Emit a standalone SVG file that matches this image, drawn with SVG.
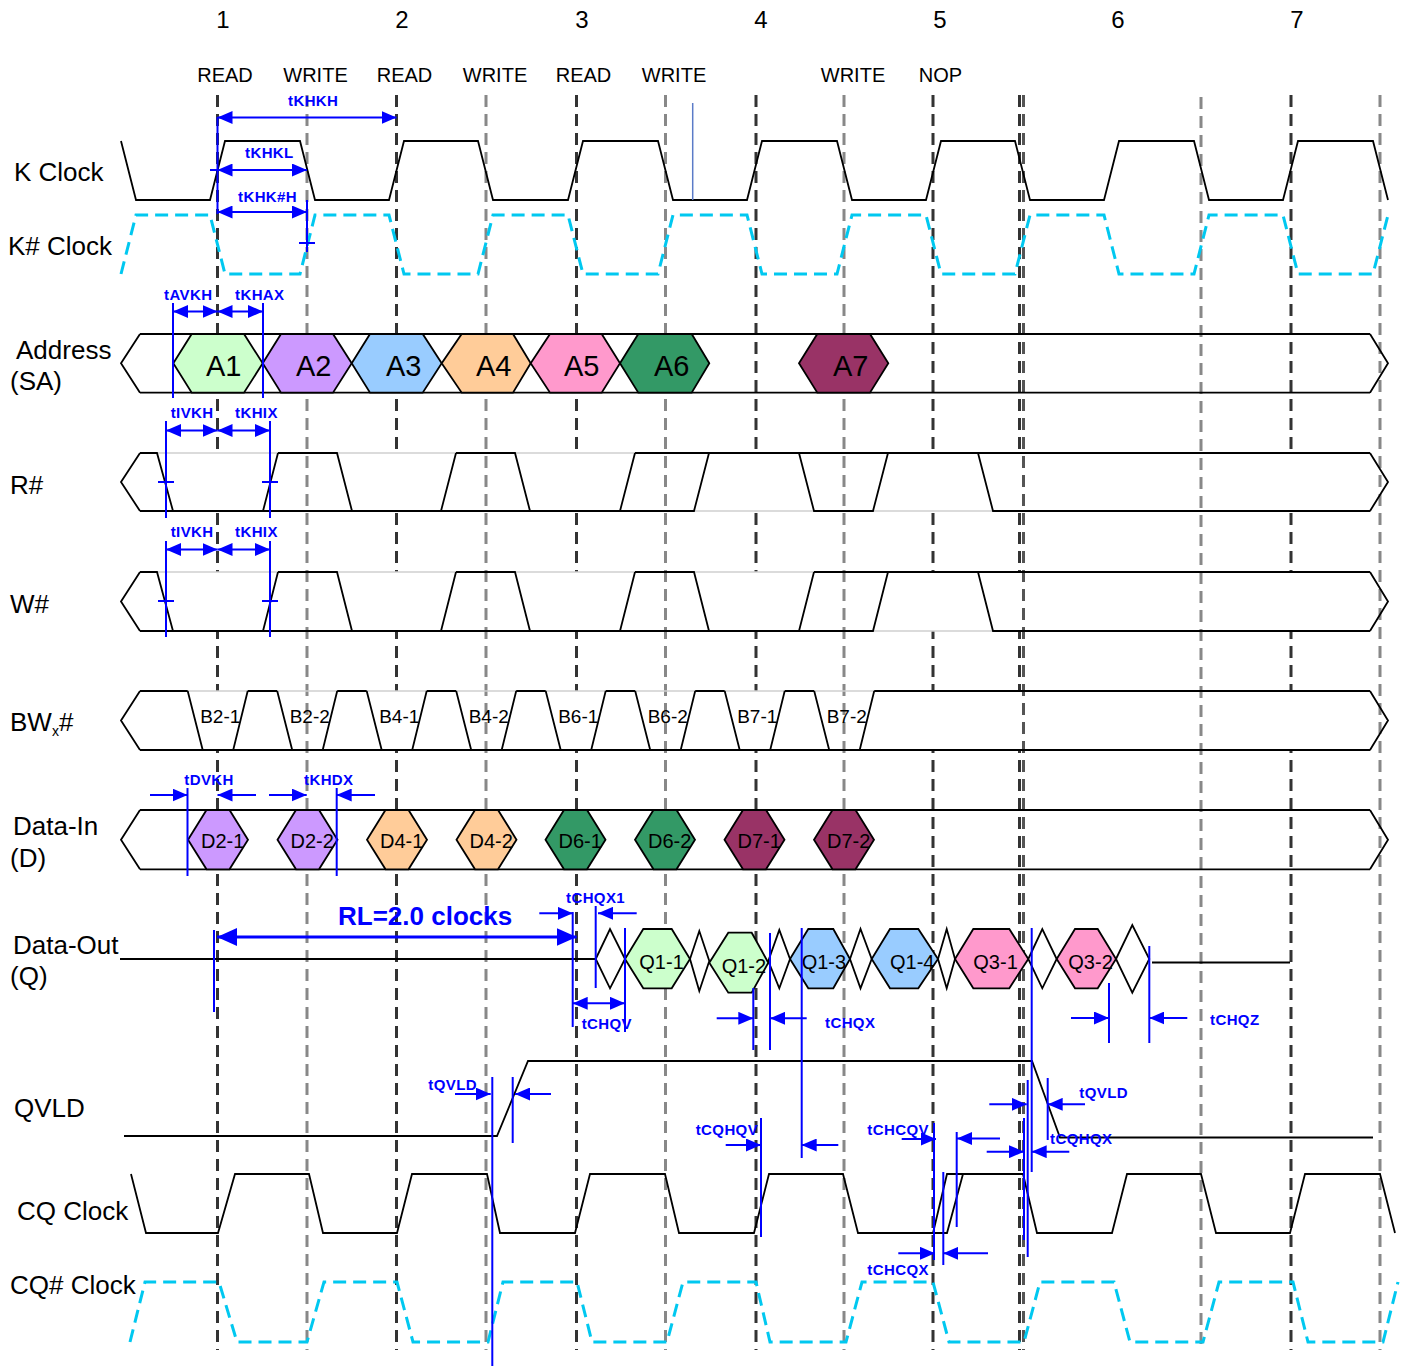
<svg xmlns="http://www.w3.org/2000/svg" width="1408" height="1366" viewBox="0 0 1408 1366">
<style>
text{font-family:"Liberation Sans",Arial,sans-serif;fill:#000}
.lbl{font-size:26px}
.num{font-size:24px;text-anchor:middle}
.cmd{font-size:20px;text-anchor:middle}
.t{font-weight:bold;font-size:15px;fill:#0000ff;letter-spacing:0.4px}
.rl{font-weight:bold;font-size:26px;fill:#0000ff}
.hx{font-size:29px}
.sm{font-size:19px}
.sm2{font-size:20px}
.dk{stroke:#333;stroke-width:3;stroke-dasharray:12 7;fill:none}
.gy{stroke:#888;stroke-width:3;stroke-dasharray:12 7;fill:none}
.sig{stroke:#000;stroke-width:1.8;fill:none;stroke-linejoin:miter}
.lt{stroke:#cfcfcf;stroke-width:1.5;fill:none}
.cy{stroke:#00c8f0;stroke-width:3;stroke-dasharray:13 7;fill:none}
.bl{stroke:#0000ff;stroke-width:2;fill:none}
.ar{stroke:#0000ff;stroke-width:2;fill:none;marker-end:url(#ah)}
.da{stroke:#0000ff;stroke-width:2;fill:none;marker-end:url(#ah);marker-start:url(#ah)}
.hex{stroke:#000;stroke-width:1.8}
</style>
<defs>
<marker id="ah" markerUnits="userSpaceOnUse" markerWidth="15" markerHeight="13" refX="15" refY="6.5" orient="auto-start-reverse"><path d="M0,0 L15,6.5 L0,13 z" fill="#0000ff"/></marker>
<marker id="ahb" markerUnits="userSpaceOnUse" markerWidth="20" markerHeight="18" refX="20" refY="9" orient="auto-start-reverse"><path d="M0,0 L20,9 L0,18 z" fill="#0000ff"/></marker>
</defs>
<rect width="1408" height="1366" fill="#fff"/>

<g id="grid-dark">
<path class="dk" d="M217.5,95 V1350 M396.5,95 V1350 M576.5,95 V1350 M756,95 V1350 M933,95 V1350 M1019.5,95 V1350 M1291,95 V1350"/>
</g>

<g id="bus-fills">
<polygon points="121,482 140,453 1370,453 1388,482 1370,511 140,511" fill="#fff"/>
<polygon points="121,601.5 140,572 1370,572 1388,601.5 1370,631 140,631" fill="#fff"/>
<polygon points="121,720.5 140,691 1370,691 1388,720.5 1370,750 140,750" fill="#fff"/>
</g>

<g id="grid-gray">
<path class="gy" d="M307,95 V1350 M486,95 V1350 M665.5,95 V1350 M844,95 V1350 M1201,97 V1350 M1380,95 V1350"/>
<path d="M1023.5,95 V1350" stroke="#555" stroke-width="3" stroke-dasharray="12 7" fill="none"/>
</g>

<g id="header">
<text class="num" x="223" y="28">1</text>
<text class="num" x="402" y="28">2</text>
<text class="num" x="582" y="28">3</text>
<text class="num" x="761" y="28">4</text>
<text class="num" x="940" y="28">5</text>
<text class="num" x="1118" y="28">6</text>
<text class="num" x="1297" y="28">7</text>
<text class="cmd" x="225" y="82">READ</text>
<text class="cmd" x="315.5" y="82">WRITE</text>
<text class="cmd" x="404.5" y="82">READ</text>
<text class="cmd" x="495" y="82">WRITE</text>
<text class="cmd" x="583.5" y="82">READ</text>
<text class="cmd" x="674" y="82">WRITE</text>
<text class="cmd" x="853" y="82">WRITE</text>
<text class="cmd" x="940.5" y="82">NOP</text>
</g>

<g id="k-clock">
<text class="lbl" x="14" y="181">K Clock</text>
<path class="sig" d="M121,141 L136,200 L210,200 L225,141 L300,141 L315,200 L389,200 L404,141 L478,141 L493,200 L568,200 L583,141 L658,141 L673,200 L747,200 L762,141 L837,141 L852,200 L926,200 L941,141 L1015,141 L1030,200 L1104,200 L1119,141 L1194,141 L1209,200 L1283,200 L1298,141 L1373,141 L1388,200"/>
<line x1="692.7" y1="103" x2="692.7" y2="200" stroke="#5b7bc8" stroke-width="1.5"/>
</g>

<g id="k-hash-clock">
<text class="lbl" x="8" y="255">K# Clock</text>
<path class="cy" d="M121,274 L136,215 L210,215 L225,274 L300,274 L315,215 L389,215 L404,274 L478,274 L493,215 L568,215 L583,274 L658,274 L673,215 L747,215 L762,274 L837,274 L852,215 L926,215 L941,274 L1015,274 L1030,215 L1104,215 L1119,274 L1194,274 L1209,215 L1283,215 L1298,274 L1373,274 L1388,215"/>
</g>

<g id="address">
<text class="lbl" x="16" y="359">Address</text>
<text class="lbl" x="10" y="390">(SA)</text>
<path class="sig" d="M140,334 L121,363.3 L140,392.7 M1370,334 L1388,363.3 L1370,392.7 M140,334 H1370 M140,392.7 H1370"/>
<polygon class="hex" fill="#ccffcc" points="173.3,363.3 191.7,334 244,334 262.7,363.3 244,392.7 191.7,392.7"/>
<polygon class="hex" fill="#cc99ff" points="262.7,363.3 281,334 333,334 351.7,363.3 333,392.7 281,392.7"/>
<polygon class="hex" fill="#99ccff" points="351.7,363.3 370,334 422.7,334 441.7,363.3 422.7,392.7 370,392.7"/>
<polygon class="hex" fill="#ffcc99" points="441.7,363.3 461.7,334 513,334 530.7,363.3 513,392.7 461.7,392.7"/>
<polygon class="hex" fill="#ff99cc" points="530.7,363.3 550,334 601.7,334 620,363.3 601.7,392.7 550,392.7"/>
<polygon class="hex" fill="#339966" points="620,363.3 638.3,334 691.7,334 709.3,363.3 691.7,392.7 638.3,392.7"/>
<polygon class="hex" fill="#993366" points="799,363.3 817.3,334 870,334 888.3,363.3 870,392.7 817.3,392.7"/>
<text class="hx" x="206" y="376">A1</text>
<text class="hx" x="296" y="376">A2</text>
<text class="hx" x="386" y="376">A3</text>
<text class="hx" x="476" y="376">A4</text>
<text class="hx" x="564" y="376">A5</text>
<text class="hx" x="654" y="376">A6</text>
<text class="hx" x="833" y="376">A7</text>
</g>

<g id="r-hash">
<text class="lbl" x="10" y="494">R#</text>
<path class="lt" d="M140,453 H1370 M140,511 H1370"/>
<path class="sig" d="M140,453 L121,482 L140,511 M1370,453 L1388,482 L1370,511 M140,453 H157 L173,511 M278,453 H337 L352,511 M456,453 H515 L530,511 M635,453 H1370 M140,511 H694 L709,453 M263,511 L278,453 M441,511 L456,453 M620,511 L635,453 M799,453 L814,511 H873 L888,453 M978,453 L993,511 H1370"/>
</g>

<g id="w-hash">
<text class="lbl" x="10" y="613">W#</text>
<path class="lt" d="M140,572 H1370 M140,631 H1370"/>
<path class="sig" d="M140,572 L121,601.5 L140,631 M1370,572 L1388,601.5 L1370,631 M140,572 H157 L173,631 M278,572 H337 L352,631 M456,572 H515 L530,631 M635,572 H694 L709,631 M814,572 H1370 M140,631 H873 L888,572 M263,631 L278,572 M441,631 L456,572 M620,631 L635,572 M799,631 L814,572 M978,572 L993,631 H1370"/>
</g>

<g id="bwx-hash">
<text class="lbl" x="10" y="731">BW<tspan font-size="14" dy="5">x</tspan><tspan dy="-5">#</tspan></text>
<path class="lt" d="M140,691 H1370"/>
<path class="sig" d="M140,691 L121,720.5 L140,750 M1370,691 L1388,720.5 L1370,750 M140,750 H1370 M140,691 H187.7 M247.7,691 H277.2 M337.2,691 H366.7 M426.7,691 H456.2 M516.2,691 H545.7 M605.7,691 H635.2 M695.2,691 H724.7 M784.7,691 H814.2 M874.2,691 H1370
M187.7,691 L202.7,750 M233.2,750 L247.7,691
M277.2,691 L292.2,750 M322.7,750 L337.2,691
M366.7,691 L381.7,750 M412.2,750 L426.7,691
M456.2,691 L471.2,750 M501.7,750 L516.2,691
M545.7,691 L560.7,750 M591.2,750 L605.7,691
M635.2,691 L650.2,750 M680.7,750 L695.2,691
M724.7,691 L739.7,750 M770.2,750 L784.7,691
M814.2,691 L829.2,750 M859.7,750 L874.2,691"/>
<text class="sm" x="200.2" y="723">B2-1</text>
<text class="sm" x="289.7" y="723">B2-2</text>
<text class="sm" x="379.2" y="723">B4-1</text>
<text class="sm" x="468.7" y="723">B4-2</text>
<text class="sm" x="558.2" y="723">B6-1</text>
<text class="sm" x="647.7" y="723">B6-2</text>
<text class="sm" x="737.2" y="723">B7-1</text>
<text class="sm" x="826.7" y="723">B7-2</text>
</g>

<g id="data-in">
<text class="lbl" x="13" y="835">Data-In</text>
<text class="lbl" x="10" y="867">(D)</text>
<path class="sig" d="M140,810 L121,839.7 L140,869.3 M1370,810 L1388,839.7 L1370,869.3 M140,810 H1370 M140,869.3 H1370"/>
<polygon class="hex" fill="#cc99ff" points="188,839.7 206.5,810 229.5,810 248,839.7 229.5,869.3 206.5,869.3"/>
<polygon class="hex" fill="#cc99ff" points="277.5,839.7 296,810 319,810 337.5,839.7 319,869.3 296,869.3"/>
<polygon class="hex" fill="#ffcc99" points="367,839.7 385.5,810 408.5,810 427,839.7 408.5,869.3 385.5,869.3"/>
<polygon class="hex" fill="#ffcc99" points="456.5,839.7 475,810 498,810 516.5,839.7 498,869.3 475,869.3"/>
<polygon class="hex" fill="#339966" points="545.5,839.7 564,810 587,810 605.5,839.7 587,869.3 564,869.3"/>
<polygon class="hex" fill="#339966" points="635,839.7 653.5,810 676.5,810 695,839.7 676.5,869.3 653.5,869.3"/>
<polygon class="hex" fill="#993366" points="724.5,839.7 743,810 766,810 784.5,839.7 766,869.3 743,869.3"/>
<polygon class="hex" fill="#993366" points="814,839.7 832.5,810 855.5,810 874,839.7 855.5,869.3 832.5,869.3"/>
<text class="sm2" x="201" y="848">D2-1</text>
<text class="sm2" x="290.5" y="848">D2-2</text>
<text class="sm2" x="380" y="848">D4-1</text>
<text class="sm2" x="469.5" y="848">D4-2</text>
<text class="sm2" x="558.5" y="848">D6-1</text>
<text class="sm2" x="648" y="848">D6-2</text>
<text class="sm2" x="737.5" y="848">D7-1</text>
<text class="sm2" x="827" y="848">D7-2</text>
</g>

<g id="data-out">
<text class="lbl" x="13" y="954">Data-Out</text>
<text class="lbl" x="10" y="985">(Q)</text>
<path class="sig" d="M120,959 H595.7 M1152,962.5 H1290"/>
<polygon class="hex" fill="#fff" points="595.7,959 610,929 625,959 610,988.3"/>
<polygon class="hex" fill="#ccffcc" points="625,959 643.3,929 671.7,929 690,959 671.7,988.3 643.3,988.3"/>
<polygon class="hex" fill="#fff" points="690,959 699.3,931 709.3,961 699.3,991"/>
<polygon class="hex" fill="#ccffcc" points="709.3,962.7 728.3,932.7 751.7,932.7 768.3,962.7 751.7,992.7 728.3,992.7"/>
<polygon class="hex" fill="#fff" points="768.3,961 779.3,930 790,959 779.3,988.3"/>
<polygon class="hex" fill="#99ccff" points="790,959 808.3,929 833.3,929 850,959 833.3,988.3 808.3,988.3"/>
<polygon class="hex" fill="#fff" points="850,959 860.5,929 871.7,959 860.5,988.3"/>
<polygon class="hex" fill="#99ccff" points="871.7,959 890,929 918.3,929 938,959 918.3,988.3 890,988.3"/>
<polygon class="hex" fill="#fff" points="938,959 946.7,929 955,959 946.7,988.3"/>
<polygon class="hex" fill="#ff99cc" points="955,959 973.3,929 1009.3,929 1028.3,959 1009.3,988.3 973.3,988.3"/>
<polygon class="hex" fill="#fff" points="1028.3,959 1042.3,929 1056.7,959 1042.3,988.3"/>
<polygon class="hex" fill="#ff99cc" points="1056.7,959 1075,929 1097.7,929 1116,959 1097.7,988.3 1075,988.3"/>
<polygon class="hex" fill="#fff" points="1116,959 1132.3,925 1149.3,959 1132.3,992.7"/>
<text class="sm2" x="639.3" y="969">Q1-1</text>
<text class="sm2" x="721.7" y="973">Q1-2</text>
<text class="sm2" x="801.7" y="969">Q1-3</text>
<text class="sm2" x="890" y="969">Q1-4</text>
<text class="sm2" x="973.3" y="969">Q3-1</text>
<text class="sm2" x="1068.3" y="969">Q3-2</text>
</g>

<g id="qvld">
<text class="lbl" x="14" y="1117">QVLD</text>
<path class="sig" d="M124,1136 L497,1136 L528,1061 L1032,1061 L1060,1137.5 L1373,1137.5"/>
</g>

<g id="cq-clock">
<text class="lbl" x="17" y="1220">CQ Clock</text>
<path class="sig" d="M131,1174 L146,1233 L218,1233 L235,1174 L309,1174 L323,1233 L397,1233 L412,1174 L487,1174 L500,1233 L575,1233 L590,1174 L665,1174 L679,1233 L754,1233 L769,1174 L843,1174 L858,1233 L933,1233 L947,1174 L1023,1174 L1037,1233 L1112,1233 L1127,1174 L1201,1174 L1216,1233 L1290,1233 L1305,1174 L1380,1174 L1395,1233 M933,1233 H947 L963,1174"/>
</g>

<g id="cq-hash-clock">
<text class="lbl" x="10" y="1294">CQ# Clock</text>
<path class="cy" d="M130,1342 L145,1282 L219,1282 L237,1342 L307,1342 L324,1282 L397,1282 L413,1342 L488,1342 L503,1282 L577,1282 L592,1342 L667,1342 L683,1282 L756,1282 L770,1342 L846,1342 L862,1282 L933,1282 L949,1342 L1024,1342 L1040,1282 L1114,1282 L1130,1342 L1203,1342 L1219,1282 L1293,1282 L1308,1342 L1383,1342 L1398,1282"/>
</g>

<g id="connectors">
<line class="da" x1="217.5" y1="117.5" x2="396.5" y2="117.5"/>
<text class="t" x="288" y="106">tKHKH</text>
<line class="bl" x1="217.5" y1="117" x2="217.5" y2="214"/>
<line class="bl" x1="210" y1="170" x2="218" y2="170"/>
<line class="da" x1="217.5" y1="170" x2="307" y2="170"/>
<text class="t" x="245" y="158">tKHKL</text>
<line class="da" x1="217.5" y1="212" x2="307" y2="212"/>
<text class="t" x="238" y="202">tKHK#H</text>
<line class="bl" x1="307" y1="200" x2="307" y2="252"/>
<line class="bl" x1="299" y1="243" x2="315" y2="243"/>
<line class="bl" x1="173" y1="303" x2="173" y2="398"/>
<line class="bl" x1="263" y1="303" x2="263" y2="398"/>
<line class="da" x1="173" y1="311.5" x2="217.5" y2="311.5"/>
<line class="da" x1="217.5" y1="311.5" x2="263" y2="311.5"/>
<text class="t" x="164" y="300">tAVKH</text>
<text class="t" x="235" y="300">tKHAX</text>
<line class="bl" x1="166" y1="421" x2="166" y2="518"/>
<line class="bl" x1="270" y1="421" x2="270" y2="518"/>
<line class="da" x1="166" y1="430.5" x2="217.5" y2="430.5"/>
<line class="da" x1="217.5" y1="430.5" x2="270" y2="430.5"/>
<line class="bl" x1="158" y1="482" x2="174" y2="482"/>
<line class="bl" x1="262" y1="482" x2="278" y2="482"/>
<text class="t" x="170.7" y="418">tIVKH</text>
<text class="t" x="235" y="418">tKHIX</text>
<line class="bl" x1="166" y1="541" x2="166" y2="637"/>
<line class="bl" x1="270" y1="541" x2="270" y2="637"/>
<line class="da" x1="166" y1="549.5" x2="217.5" y2="549.5"/>
<line class="da" x1="217.5" y1="549.5" x2="270" y2="549.5"/>
<line class="bl" x1="158" y1="601" x2="174" y2="601"/>
<line class="bl" x1="262" y1="601" x2="278" y2="601"/>
<text class="t" x="170.7" y="537">tIVKH</text>
<text class="t" x="235" y="537">tKHIX</text>
<line class="bl" x1="187.5" y1="788" x2="187.5" y2="876"/>
<line class="bl" x1="336.7" y1="788" x2="336.7" y2="876"/>
<line class="ar" x1="150" y1="795" x2="187.5" y2="795"/>
<line class="ar" x1="256" y1="795" x2="217.5" y2="795"/>
<line class="ar" x1="269" y1="795" x2="306.7" y2="795"/>
<line class="ar" x1="375" y1="795" x2="336.7" y2="795"/>
<text class="t" x="184.3" y="785">tDVKH</text>
<text class="t" x="304" y="785">tKHDX</text>
<line class="bl" x1="214" y1="930" x2="214" y2="1012"/>
<line x1="217" y1="937" x2="576.7" y2="937" stroke="#0000ff" stroke-width="3" marker-start="url(#ahb)" marker-end="url(#ahb)"/>
<text class="rl" x="338" y="925">RL=2.0 clocks</text>
<line class="bl" x1="572.7" y1="912" x2="572.7" y2="1027"/>
<line class="ar" x1="539.3" y1="913.3" x2="572.7" y2="913.3"/>
<line class="bl" x1="595.7" y1="906" x2="595.7" y2="988"/>
<line class="ar" x1="636.7" y1="913.3" x2="598" y2="913.3"/>
<text class="t" x="566" y="903">tCHQX1</text>
<line class="bl" x1="625" y1="928" x2="625" y2="1032"/>
<line class="da" x1="572.7" y1="1003.3" x2="625" y2="1003.3"/>
<text class="t" x="581.7" y="1029">tCHQV</text>
<line class="bl" x1="753.3" y1="988" x2="753.3" y2="1050"/>
<line class="bl" x1="770" y1="933" x2="770" y2="1050"/>
<line class="bl" x1="801.7" y1="928" x2="801.7" y2="1158"/>
<line class="ar" x1="716.7" y1="1018.3" x2="753.3" y2="1018.3"/>
<line class="ar" x1="806.7" y1="1018.3" x2="770" y2="1018.3"/>
<text class="t" x="825" y="1028">tCHQX</text>
<line class="bl" x1="1031.7" y1="928" x2="1031.7" y2="1172"/>
<line class="bl" x1="1109" y1="983" x2="1109" y2="1043"/>
<line class="bl" x1="1149.3" y1="946" x2="1149.3" y2="1043"/>
<line class="ar" x1="1071" y1="1018" x2="1109" y2="1018"/>
<line class="ar" x1="1187.3" y1="1018" x2="1149.3" y2="1018"/>
<text class="t" x="1210" y="1025">tCHQZ</text>
<line class="ar" x1="455" y1="1094" x2="490.7" y2="1094"/>
<line class="bl" x1="492.3" y1="1077" x2="492.3" y2="1366"/>
<line class="bl" x1="512.7" y1="1077" x2="512.7" y2="1143"/>
<line class="ar" x1="551" y1="1094" x2="515" y2="1094"/>
<text class="t" x="428.3" y="1090">tQVLD</text>
<line class="ar" x1="725.7" y1="1145" x2="761" y2="1145"/>
<line class="bl" x1="761" y1="1118" x2="761" y2="1237"/>
<line class="ar" x1="838.3" y1="1145" x2="801.7" y2="1145"/>
<text class="t" x="695.7" y="1135">tCQHQV</text>
<line class="ar" x1="901.7" y1="1139" x2="936" y2="1139"/>
<line class="bl" x1="934" y1="1123" x2="934" y2="1260"/>
<line class="bl" x1="943.3" y1="1172" x2="943.3" y2="1265"/>
<line class="bl" x1="956.7" y1="1132" x2="956.7" y2="1227"/>
<line class="ar" x1="1000" y1="1138.5" x2="957" y2="1138.5"/>
<text class="t" x="867.3" y="1135">tCHCQV</text>
<line class="ar" x1="898.3" y1="1253.3" x2="935" y2="1253.3"/>
<line class="ar" x1="988" y1="1253.3" x2="943.3" y2="1253.3"/>
<text class="t" x="867.3" y="1275">tCHCQX</text>
<line class="ar" x1="989.3" y1="1104.3" x2="1026.7" y2="1104.3"/>
<line class="bl" x1="1027.7" y1="1080" x2="1027.7" y2="1257"/>
<line class="bl" x1="1047.7" y1="1078" x2="1047.7" y2="1140"/>
<line class="ar" x1="1085" y1="1104.3" x2="1047.7" y2="1104.3"/>
<text class="t" x="1079.3" y="1098">tQVLD</text>
<line class="ar" x1="986.7" y1="1151.7" x2="1024" y2="1151.7"/>
<line class="bl" x1="1024" y1="1118" x2="1024" y2="1240"/>
<line class="ar" x1="1069.3" y1="1151.7" x2="1031.7" y2="1151.7"/>
<text class="t" x="1050" y="1144">tCQHQX</text>
</g>
</svg>
